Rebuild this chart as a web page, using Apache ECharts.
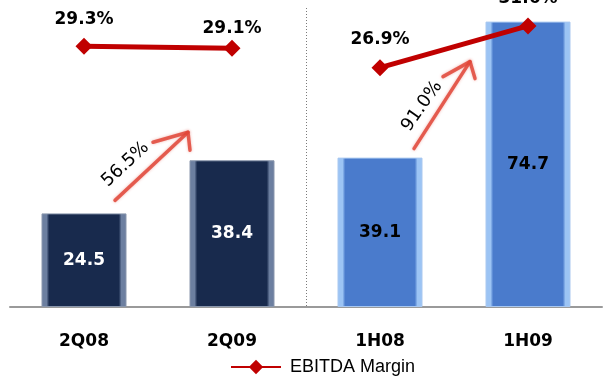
<!DOCTYPE html>
<html>
<head>
<meta charset="utf-8">
<script src="https://cdn.jsdelivr.net/npm/echarts@6/dist/echarts.min.js"></script>
<style>
  html, body { margin: 0; padding: 0; background: #ffffff; }
  #chart { width: 605px; height: 378px; }
</style>
</head>
<body>
<div id="chart"></div>
<script>
// Periods shown on the category axis
const categories = ['2Q08', '2Q09', '1H08', '1H09'];
// EBITDA (bars)
const ebitdaValues = [24.5, 38.4, 39.1, 74.7];
// EBITDA margin, % (line, drawn as two separate comparisons)
const marginValues = [29.3, 29.1, 26.9, 31.6];
// Growth annotations: [from category, to category, label]
const growthNotes = [
  [0, 1, '56.5%'],
  [2, 3, '91.0%']
];

const NAVY = '#182a4d';
const NAVY_EDGE = '#6c7fa0';
const BLUE = '#4a7bcc';
const BLUE_EDGE = '#9cc4f4';
const MARGIN_RED = '#c00000';

function bevel(main, edge) {
  return new echarts.graphic.LinearGradient(0, 0, 1, 0, [
    { offset: 0, color: edge },
    { offset: 0.06, color: edge },
    { offset: 0.09, color: main },
    { offset: 0.91, color: main },
    { offset: 0.94, color: edge },
    { offset: 1, color: edge }
  ]);
}

const barData = ebitdaValues.map((v, i) => {
  const quarter = i < 2;
  return {
    value: v,
    itemStyle: {
      color: bevel(quarter ? NAVY : BLUE, quarter ? NAVY_EDGE : BLUE_EDGE),
      borderColor: quarter ? '#8a97ad' : '#a9c8f0',
      borderWidth: 1
    },
    label: { color: quarter ? '#ffffff' : '#000000' }
  };
});

// Label gaps above each margin marker
const marginLabelGap = [10, 3, 11, 10];

function marginSegment(from, to) {
  return marginValues.map((v, i) => {
    if (i < from || i > to) return '-';
    return { value: v, label: { distance: marginLabelGap[i] } };
  });
}

function marginSeries(from, to) {
  return {
    name: 'EBITDA Margin',
    type: 'line',
    yAxisIndex: 1,
    data: marginSegment(from, to),
    connectNulls: false,
    symbol: 'diamond',
    symbolSize: 17,
    lineStyle: { color: MARGIN_RED, width: 5 },
    itemStyle: { color: MARGIN_RED },
    label: {
      show: true,
      position: 'top',
      color: '#000000',
      fontFamily: 'DejaVu Sans',
      fontWeight: 'bold',
      fontSize: 17,
      formatter: (p) => p.value.toFixed(1) + '%'
    },
    z: 5
  };
}

const chart = echarts.init(document.getElementById('chart'), null, { renderer: 'canvas' });

chart.setOption({
  animation: false,
  backgroundColor: '#ffffff',
  grid: { left: 10, right: 3, top: 9, bottom: 71, containLabel: false },
  legend: {
    data: ['EBITDA Margin'],
    left: 230,
    top: 358,
    padding: 0,
    itemWidth: 50,
    itemHeight: 18,
    lineStyle: { width: 2 },
    textStyle: {
      fontFamily: 'Liberation Sans',
      fontSize: 18,
      color: '#000000',
      padding: [0, 0, 0, 4]
    }
  },
  xAxis: {
    type: 'category',
    data: categories,
    boundaryGap: true,
    axisLine: { show: true, lineStyle: { color: '#9a9a9a', width: 2 } },
    axisTick: { show: false },
    axisLabel: {
      margin: 26,
      color: '#000000',
      fontFamily: 'DejaVu Sans',
      fontWeight: 'bold',
      fontSize: 17
    },
    splitLine: { show: false }
  },
  yAxis: [
    { type: 'value', min: 0, max: 78, show: false, splitLine: { show: false } },
    { type: 'value', min: 0, max: 33.5, show: false, splitLine: { show: false } }
  ],
  series: [
    {
      name: 'EBITDA',
      type: 'bar',
      yAxisIndex: 0,
      barWidth: 85,
      data: barData,
      label: {
        show: true,
        position: 'inside',
        fontFamily: 'DejaVu Sans',
        fontWeight: 'bold',
        fontSize: 17,
        formatter: (p) => p.value.toFixed(1)
      },
      z: 2
    },
    marginSeries(0, 1),
    marginSeries(2, 3)
  ]
});

function toPx(i, v) {
  return chart.convertToPixel({ xAxisIndex: 0, yAxisIndex: 0 }, [i, v]);
}

const graphics = [];

// Dotted divider between the quarterly and half-year groups
const leftGroupEnd = toPx(1, 0);
const rightGroupStart = toPx(2, 0);
const dividerX = Math.round((leftGroupEnd[0] + rightGroupStart[0]) / 2) + 0.5;
const axisTop = toPx(0, 78)[1];
graphics.push({
  type: 'line',
  shape: { x1: dividerX, y1: axisTop - 1, x2: dividerX, y2: leftGroupEnd[1] },
  style: { stroke: '#7a7a7a', lineWidth: 1, lineDash: [1, 2] },
  z: 1
});

// Growth arrows drawn between each pair of bars, anchored to the bar tops
const arrowShapes = [
  // start offset from first bar top, tip offset from second bar top, barb offsets from tip, label offset from shaft middle, label angle
  { s: [31, -13], t: [-44, -28], b1: [-35, 10], b2: [2, 18], lo: [-26, -2], rot: 43 },
  { s: [34, -9], t: [-58, 40], b1: [-27, 15], b2: [5, 17], lo: [-20, 1], rot: 55 }
];

growthNotes.forEach((note, k) => {
  const [a, b, text] = note;
  const shape = arrowShapes[k];
  const pa = toPx(a, ebitdaValues[a]);
  const pb = toPx(b, ebitdaValues[b]);
  const start = [pa[0] + shape.s[0], pa[1] + shape.s[1]];
  const tip = [pb[0] + shape.t[0], pb[1] + shape.t[1]];
  const stroke = {
    stroke: 'rgba(224,70,56,0.85)',
    lineWidth: 3.5,
    lineCap: 'round',
    lineJoin: 'round',
    fill: null,
    shadowBlur: 3,
    shadowColor: 'rgba(224,70,56,0.45)'
  };
  graphics.push({
    type: 'line',
    shape: { x1: start[0], y1: start[1], x2: tip[0], y2: tip[1] },
    style: stroke,
    z: 3
  });
  graphics.push({
    type: 'polyline',
    shape: {
      points: [
        [tip[0] + shape.b1[0], tip[1] + shape.b1[1]],
        tip,
        [tip[0] + shape.b2[0], tip[1] + shape.b2[1]]
      ]
    },
    style: stroke,
    z: 3
  });
  graphics.push({
    type: 'text',
    x: (start[0] + tip[0]) / 2 + shape.lo[0],
    y: (start[1] + tip[1]) / 2 + shape.lo[1],
    rotation: shape.rot * Math.PI / 180,
    style: {
      text: text,
      fill: '#000000',
      font: '18px "DejaVu Sans"',
      align: 'center',
      verticalAlign: 'middle'
    },
    z: 4
  });
});

chart.setOption({ graphic: graphics });
</script>
</body>
</html>
